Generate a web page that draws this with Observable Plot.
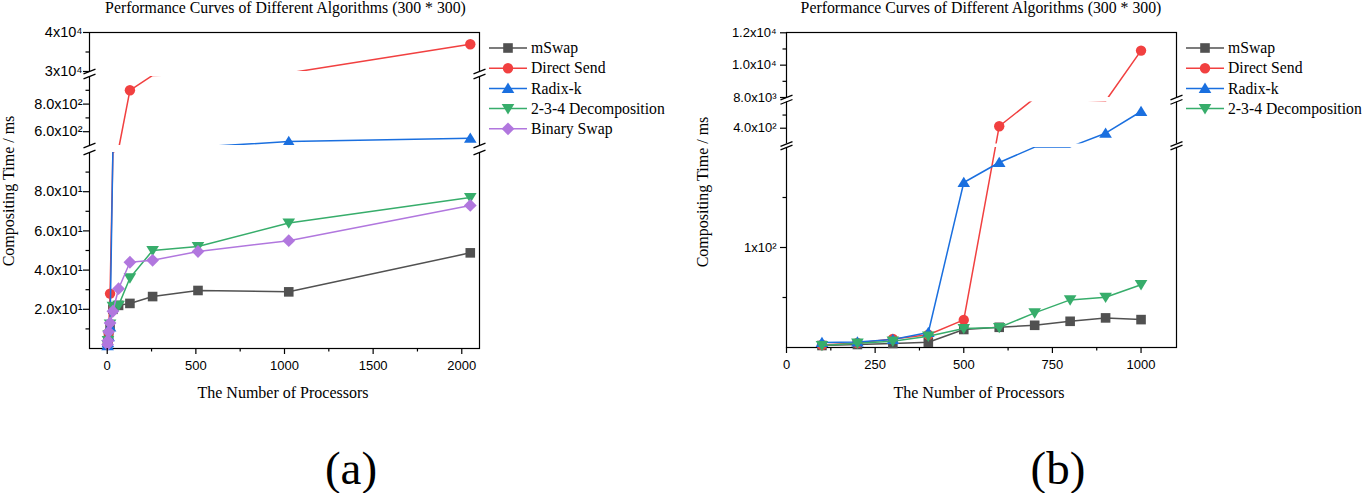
<!DOCTYPE html>
<html><head><meta charset="utf-8">
<script src="https://cdn.jsdelivr.net/npm/d3@7"></script>
<script src="https://cdn.jsdelivr.net/npm/@observablehq/plot@0.6"></script>
<style>
body{margin:0;background:#fff;}
#root{position:relative;width:1362px;height:493px;overflow:hidden;background:#fff;font-family:"Liberation Serif","Times New Roman",serif;color:#000;}
.abs{position:absolute;white-space:nowrap;color:#000;line-height:1;}
</style></head><body><div id="root"></div>
<script>
// ---------- DATA ----------
const seriesNames = ["mSwap", "Direct Send", "Radix-k", "2-3-4 Decomposition", "Binary Swap"];
const seriesColors = ["#515151", "#F14040", "#1A6FDF", "#37AD6B", "#B177DE"];
const seriesSymbols = ["square", "circle", "triangleUp", "triangleDown", "diamond"];

// (a) 300*300, power-of-two processor counts
const procsA = [2, 4, 8, 16, 32, 64, 128, 256, 512, 1024, 2048];
const mSwapA = [2, 4, 7, 12, 20, 22, 23, 26.5, 29.6, 28.9, 48.8];
const directSendA = [2, 4, 8, 28, 110, 300, 900, 7400, 14000, 21300, 37000];
const radixKA = [1.5, 3, 6, 11, 270, 320, 360, 390, 408, 529, 553];
const decomp234A = [2, 4, 7, 12.5, 21.5, 22, 36, 50, 52, 64, 77];
const binarySwapA = [2, 4, 8.5, 13, 19, 30.5, 44, 45, 49.5, 55, 73];

// (b) 300*300, 100..1000 processors
const procsB = [100, 200, 300, 400, 500, 600, 700, 800, 900, 1000];
const mSwapB = [2, 3, 4, 5.3, 18, 20.2, 22.2, 26.2, 29.6, 27.9];
const directSendB = [2.5, 4.5, 8.5, 12.7, 27.6, 415, 7000, 4500, 2100, 10900];
const radixKB = [5, 5.5, 8, 15, 165, 185, 209, 214, 362, 527];
const decomp234B = [2, 4.3, 6.3, 11.3, 19, 20, 34.6, 47.6, 50.2, 62.8];

// axes (values and tick labels)
const xDomainA = [-100, 2100];
const yDomainA = [0, 100, 500, 1000, 30000, 40000];
const breaksA = [[100, 500], [1000, 30000]];
const xMajorA = [0, 500, 1000, 1500, 2000];
const xMinorA = [250, 750, 1250, 1750];
const yMajorA = [20, 40, 60, 80, 600, 800, 30000, 40000];
const yMajorLabelsA = ["2.0x10¹", "4.0x10¹", "6.0x10¹", "8.0x10¹", "6.0x10²", "8.0x10²", "3x10⁴", "4x10⁴"];
const yMinorA = [10, 30, 50, 70, 90, 700, 900, 35000];

const xDomainB = [0, 1100];
const yDomainB = [0, 200, 280, 600, 8000, 12000];
const breaksB = [[200, 280], [600, 8000]];
const xMajorB = [0, 250, 500, 750, 1000];
const xMinorB = [125, 375, 625, 875];
const yMajorB = [100, 400, 8000, 10000, 12000];
const yMajorLabelsB = ["1x10²", "4.0x10²", "8.0x10³", "1.0x10⁴", "1.2x10⁴"];
const yMinorB = [50, 150, 500, 9000, 11000];

const titleText = "Performance Curves of Different Algorithms (300 * 300)";
const xLabelText = "The Number of Processors";
const yLabelText = "Compositing Time / ms";

// ---------- LAYOUT ----------
const layoutA = {left: 0, width: 681, height: 410, marginLeft: 89, marginRight: 202, marginTop: 32, marginBottom: 62,
  yRange: [348, 152, 145, 76, 71, 32], yFont: 14.5, yPad: 1};
const layoutB = {left: 681, width: 681, height: 410, marginLeft: 105, marginRight: 186, marginTop: 32, marginBottom: 63,
  yRange: [347, 147, 143.5, 101.4, 97, 32.3], yFont: 13, yPad: 4};

const symbolDefs = {
  square: {draw(c) { c.moveTo(-4.8, -4.8); c.lineTo(4.8, -4.8); c.lineTo(4.8, 4.8); c.lineTo(-4.8, 4.8); c.closePath(); }},
  circle: {draw(c) { c.moveTo(5.2, 0); c.arc(0, 0, 5.2, 0, 2 * Math.PI); c.closePath(); }},
  triangleUp: {draw(c) { c.moveTo(0, -5.8); c.lineTo(6.3, 4.6); c.lineTo(-6.3, 4.6); c.closePath(); }},
  triangleDown: {draw(c) { c.moveTo(0, 5.8); c.lineTo(6.3, -4.6); c.lineTo(-6.3, -4.6); c.closePath(); }},
  diamond: {draw(c) { c.moveTo(0, -6.4); c.lineTo(6.4, 0); c.lineTo(0, 6.4); c.lineTo(-6.4, 0); c.closePath(); }}
};
const slash = {draw(c) { c.moveTo(-6, 2.4); c.lineTo(6, -2.4); }};

const root = document.getElementById("root");

function makeChart(cfg) {
  const {procs, valuesList, xDomain, yDomain, breaks, xMajor, xMinor, yMajor, yMajorLabels, yMinor, L} = cfg;
  const segs = [];
  let lo = yDomain[0];
  breaks.forEach(([a, b]) => { segs.push([lo, a]); lo = b; });
  segs.push([lo, yDomain[yDomain.length - 1]]);
  const inSeg = v => segs.some(([a, b]) => v >= a && v <= b);

  const marks = [Plot.frame({stroke: "#000", strokeWidth: 1.2})];
  valuesList.forEach((vals, i) => {
    const rows = procs.map((p, j) => ({x: p, y: vals[j]}));
    marks.push(Plot.line(rows, {x: "x", y: "y", stroke: seriesColors[i], strokeWidth: 1.5}));
    marks.push(Plot.dot(rows.filter(d => inSeg(d.y)), {x: "x", y: "y", symbol: symbolDefs[seriesSymbols[i]], fill: seriesColors[i], stroke: "none"}));
  });
  marks.push(Plot.rect(breaks, {x1: () => xDomain[0], x2: () => xDomain[1], y1: d => d[0], y2: d => d[1], fill: "white", insetLeft: -5, insetRight: -5}));
  const edges = breaks.flatMap(b => b.flatMap(v => xDomain.map(x => ({x, y: v}))));
  marks.push(Plot.dot(edges, {x: "x", y: "y", symbol: slash, stroke: "#000", strokeWidth: 1.2, fill: "none"}));
  marks.push(Plot.axisY(yMajor, {anchor: "left", tickSize: 6, tickPadding: L.yPad, strokeWidth: 1.2, fontSize: L.yFont,
    tickFormat: d => yMajorLabels[yMajor.indexOf(d)]}));
  marks.push(Plot.axisY(yMinor, {anchor: "left", tickSize: 3.5, strokeWidth: 1.2, tickFormat: () => ""}));
  marks.push(Plot.axisX(xMajor, {anchor: "bottom", tickSize: 6, tickPadding: 6, strokeWidth: 1.2, fontSize: 13,
    tickFormat: d => String(d)}));
  marks.push(Plot.axisX(xMinor, {anchor: "bottom", tickSize: 3.5, strokeWidth: 1.2, tickFormat: () => ""}));

  const svg = Plot.plot({
    width: L.width, height: L.height,
    marginLeft: L.marginLeft, marginRight: L.marginRight, marginTop: L.marginTop, marginBottom: L.marginBottom,
    x: {domain: xDomain, label: null},
    y: {type: "linear", domain: yDomain, range: L.yRange, label: null},
    style: {fontFamily: "'Liberation Sans', Arial, sans-serif", fontSize: "13px", color: "#000", background: "transparent", overflow: "visible"},
    marks
  });
  svg.style.position = "absolute";
  svg.style.left = L.left + "px";
  svg.style.top = "0px";
  root.appendChild(svg);
}

function addText(text, x, y, size, opts = {}) {
  const d = document.createElement("div");
  d.className = "abs";
  d.textContent = text;
  d.style.left = x + "px";
  d.style.top = y + "px";
  d.style.fontSize = size + "px";
  d.style.transform = "translate(-50%,-50%)" + (opts.rotate ? " rotate(-90deg)" : "");
  root.appendChild(d);
}

function addLegend(x, y, n) {
  const svg = d3.select(root).append("svg")
    .style("position", "absolute").style("left", x + "px").style("top", y + "px")
    .style("overflow", "visible").attr("width", 190).attr("height", 110);
  for (let i = 0; i < n; i++) {
    const g = svg.append("g").attr("transform", `translate(0,${i * 20.2})`);
    g.append("line").attr("x1", 0).attr("x2", 38).attr("y1", 0).attr("y2", 0)
      .attr("stroke", seriesColors[i]).attr("stroke-width", 1.5);
    const p = d3.path();
    symbolDefs[seriesSymbols[i]].draw(p);
    g.append("path").attr("d", p.toString()).attr("transform", "translate(19,0)").attr("fill", seriesColors[i]);
    g.append("text").attr("x", 42).attr("y", 0).attr("dy", "0.33em").text(seriesNames[i])
      .style("font-family", "'Liberation Serif','Times New Roman',serif").style("font-size", "15.7px").attr("fill", "#000");
  }
}

makeChart({procs: procsA, valuesList: [mSwapA, directSendA, radixKA, decomp234A, binarySwapA],
  xDomain: xDomainA, yDomain: yDomainA, breaks: breaksA, xMajor: xMajorA, xMinor: xMinorA,
  yMajor: yMajorA, yMajorLabels: yMajorLabelsA, yMinor: yMinorA, L: layoutA});
makeChart({procs: procsB, valuesList: [mSwapB, directSendB, radixKB, decomp234B],
  xDomain: xDomainB, yDomain: yDomainB, breaks: breaksB, xMajor: xMajorB, xMinor: xMinorB,
  yMajor: yMajorB, yMajorLabels: yMajorLabelsB, yMinor: yMinorB, L: layoutB});

addLegend(489, 48.3, 5);
addLegend(1186, 48.3, 4);

addText(titleText, 285.5, 7.5, 15.8);
addText(titleText, 981, 7.5, 15.8);
addText(xLabelText, 283, 393, 16);
addText(xLabelText, 979, 393, 16);
addText(yLabelText, 8.5, 191, 16, {rotate: true});
addText(yLabelText, 702.5, 191.5, 16, {rotate: true});
addText("(a)", 351, 468, 47);
addText("(b)", 1058, 468, 47);
</script></body></html>
